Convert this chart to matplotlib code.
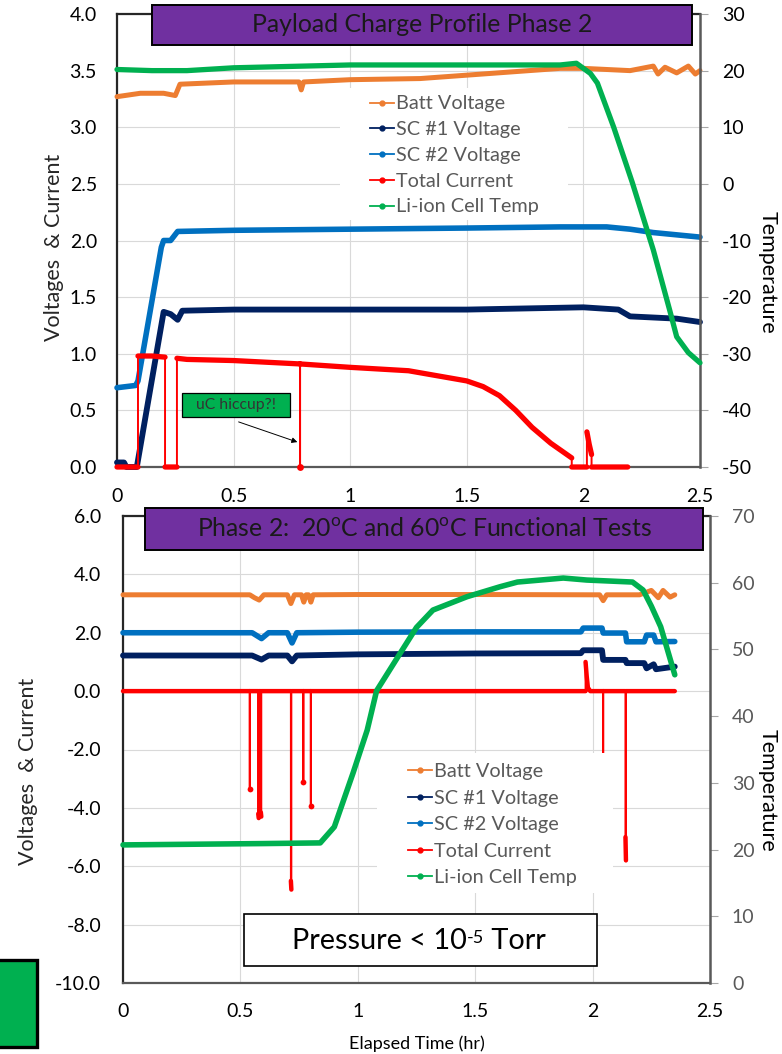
import numpy as np
import matplotlib
matplotlib.use('Agg')  # no display in the sandbox
import matplotlib.pyplot as plt
from matplotlib.patches import Rectangle
from matplotlib.lines import Line2D

plt.rcParams['font.family'] = ['Lato', 'DejaVu Sans']
plt.rcParams['mathtext.fontset'] = 'custom'
plt.rcParams['mathtext.rm'] = 'Lato'
plt.rcParams['mathtext.it'] = 'Lato:italic'
plt.rcParams['mathtext.bf'] = 'Lato:bold'
plt.rcParams['axes.unicode_minus'] = False

W, H = 782, 1054

# ---- colours (Excel palette) ----
C_BATT = '#ED7D31'
C_SC1 = '#002060'
C_SC2 = '#0070C0'
C_CUR = '#FF0000'
C_TEMP = '#00B050'
C_PURPLE = '#7030A0'
GRID = '#D9D9D9'

series_names = ['Batt Voltage', 'SC #1 Voltage', 'SC #2 Voltage',
                'Total Current', 'Li-ion Cell Temp']
x_ticks = [0, 0.5, 1, 1.5, 2, 2.5]
x_tick_labels = ['0', '0.5', '1', '1.5', '2', '2.5']

# ---- top panel: payload charge profile ----
top_batt_x = [0, 0.1, 0.2, 0.25, 0.27, 0.5, 0.78, 0.79, 0.80, 1.0, 1.3,
              1.5, 1.7, 1.9, 2.0, 2.2, 2.3, 2.32, 2.35, 2.4, 2.45, 2.48, 2.5]
top_batt_v = [3.27, 3.30, 3.30, 3.28, 3.38, 3.40, 3.40, 3.33, 3.40, 3.42, 3.43,
              3.46, 3.49, 3.52, 3.52, 3.50, 3.54, 3.47, 3.53, 3.48, 3.54, 3.47, 3.50]

top_sc1_x = [0, 0.03, 0.04, 0.085, 0.2, 0.23, 0.26, 0.28, 0.5, 1.0, 1.5,
             2.0, 2.15, 2.2, 2.3, 2.4, 2.5]
top_sc1_v = [0.04, 0.04, 0.0, 0.0, 1.37, 1.35, 1.30, 1.38, 1.39, 1.39, 1.39,
             1.41, 1.39, 1.33, 1.32, 1.31, 1.28]

top_sc2_x = [0, 0.08, 0.09, 0.19, 0.2, 0.23, 0.26, 0.5, 1.0, 1.5, 1.9,
             2.1, 2.2, 2.3, 2.4, 2.5]
top_sc2_v = [0.70, 0.72, 0.76, 1.94, 2.0, 2.0, 2.08, 2.09, 2.10, 2.11, 2.12,
             2.12, 2.10, 2.07, 2.05, 2.03]

top_cur_x = [0, 0.09, 0.09, 0.15, 0.206, 0.206, 0.257, 0.257, 0.3, 0.5,
             0.785, 0.785, 0.785, 1.0, 1.25, 1.5, 1.57, 1.64, 1.71, 1.78,
             1.86, 1.95, 1.95, 2.015, 2.015, 2.025, 2.035, 2.035, 2.19]
top_cur_v = [0, 0, 0.98, 0.98, 0.97, 0, 0, 0.96, 0.95, 0.94,
             0.91, 0, 0.91, 0.88, 0.85, 0.76, 0.71, 0.63, 0.50, 0.35,
             0.21, 0.08, 0, 0, 0.31, 0.20, 0.11, 0, 0]

top_temp_x = [0, 0.15, 0.3, 0.5, 1.0, 1.5, 1.9, 1.97, 2.03, 2.06, 2.13,
              2.21, 2.3, 2.37, 2.4, 2.45, 2.5]
top_temp_t = [20.2, 20.0, 20.0, 20.5, 21.0, 21.0, 21.0, 21.3, 19.5, 17.8, 10.0,
              0.2, -11.7, -22.3, -27.0, -29.8, -31.6]

# ---- bottom panel: 20C / 60C functional tests ----
bot_batt_x = [0, 0.54, 0.56, 0.58, 0.60, 0.70, 0.715, 0.73, 0.76, 0.77, 0.78,
              0.79, 0.80, 0.81, 1.0, 1.5, 2.0, 2.03, 2.045, 2.06, 2.2, 2.25,
              2.28, 2.3, 2.33, 2.35]
bot_batt_v = [3.30, 3.30, 3.20, 3.12, 3.30, 3.30, 3.00, 3.30, 3.30, 3.05, 3.30,
              3.30, 3.05, 3.30, 3.31, 3.31, 3.30, 3.30, 3.10, 3.30, 3.30, 3.45,
              3.20, 3.45, 3.22, 3.30]

bot_sc1_x = [0, 0.55, 0.59, 0.62, 0.70, 0.72, 0.74, 1.0, 1.5, 1.95, 1.96,
             2.04, 2.045, 2.14, 2.145, 2.22, 2.23, 2.26, 2.27, 2.35]
bot_sc1_v = [1.22, 1.22, 1.08, 1.22, 1.22, 1.02, 1.22, 1.26, 1.29, 1.30, 1.40,
             1.40, 1.07, 1.07, 0.96, 0.96, 0.78, 0.92, 0.75, 0.84]

bot_sc2_x = [0, 0.55, 0.59, 0.62, 0.70, 0.72, 0.74, 1.0, 1.5, 1.95, 1.96,
             2.04, 2.045, 2.14, 2.145, 2.22, 2.23, 2.26, 2.27, 2.35]
bot_sc2_v = [2.00, 2.00, 1.80, 2.00, 2.00, 1.65, 2.00, 2.02, 2.03, 2.03, 2.16,
             2.16, 1.99, 1.99, 1.69, 1.69, 1.92, 1.92, 1.69, 1.70]

bot_cur_x = [0, 0.54, 0.54, 0.54, 0.576, 0.576, 0.578, 0.578, 0.587, 0.587,
             0.589, 0.589, 0.715, 0.715, 0.717, 0.717, 0.768, 0.768, 0.768,
             0.80, 0.80, 0.80, 1.97, 1.97, 1.975, 1.98, 1.99, 2.045, 2.045,
             2.045, 2.14, 2.14, 2.142, 2.142, 2.35]
bot_cur_v = [0, 0, -3.35, 0, 0, -4.2, -4.35, 0, 0, -4.15, -4.3, 0, 0, -6.5,
             -6.8, 0, 0, -3.1, 0, 0, -3.93, 0, 0, 1.0, 0.5, 0.12, 0, 0, -2.3,
             0, 0, -5.0, -5.8, 0, 0]

bot_temp_x = [0, 0.3, 0.6, 0.84, 0.9, 0.98, 1.04, 1.08, 1.18, 1.25, 1.32,
              1.465, 1.606, 1.68, 1.875, 1.975, 2.17, 2.215, 2.25, 2.29, 2.35]
bot_temp_t = [20.7, 20.8, 20.9, 21.0, 23.4, 31.5, 37.9, 43.8, 49.4, 53.3, 55.9,
              57.9, 59.4, 60.1, 60.7, 60.4, 60.1, 58.9, 56.5, 53.4, 46.2]


def fx(px):
    return px / W


def fy(py):
    return 1 - py / H


def draw_series(ax, xs, ys, color, thick=3.8, thin=1.4, z=3):
    """Thin trace through every point, thick trace except on vertical jumps."""
    n = len(xs)
    ax.plot(xs, ys, color=color, lw=thin, zorder=z, clip_on=False)
    tx, ty = [], []
    for i in range(n):
        if i > 0 and xs[i] == xs[i - 1]:
            tx.append(np.nan)
            ty.append(np.nan)
        tx.append(xs[i])
        ty.append(ys[i])
    ax.plot(tx, ty, color=color, lw=thick, zorder=z, clip_on=False,
            solid_capstyle='round', solid_joinstyle='round')
    # lone samples at the tip of a jump still get their marker dot
    lone = [i for i in range(n)
            if (i == 0 or xs[i] == xs[i - 1]) and (i == n - 1 or xs[i + 1] == xs[i])]
    if lone:
        ax.plot([xs[i] for i in lone], [ys[i] for i in lone], ls='none',
                marker='o', ms=thick * 1.3, mew=0, color=color, zorder=z,
                clip_on=False)


def style_axes(ax, ax2, left_pad, bottom_pad, right_color):
    ax.set_xlim(0, 2.5)
    ax.set_xticks(x_ticks)
    ax.set_xticklabels(x_tick_labels)
    ax.grid(True, color=GRID, lw=0.8)
    ax.set_axisbelow(True)
    ax.tick_params(axis='y', length=0, pad=left_pad, labelsize=14, colors='black')
    ax.tick_params(axis='x', length=0, pad=bottom_pad, labelsize=14, colors='black')
    ax2.tick_params(axis='y', length=5.8, width=0.8, color='#A6A6A6', pad=10,
                    labelsize=14, labelcolor=right_color)
    ax.spines['right'].set_visible(False)
    for side in ['top', 'left']:
        ax.spines[side].set_color('#262626')
        ax.spines[side].set_linewidth(1.6)
    ax.spines['bottom'].set_color('#595959')
    ax.spines['bottom'].set_linewidth(1.6)
    for side in ['top', 'left', 'bottom']:
        ax2.spines[side].set_visible(False)
    ax2.spines['right'].set_color('#595959')
    ax2.spines['right'].set_linewidth(1.8)


def add_legend(fig, ax2, box, anchor, spacing):
    x0, y0, x1, y1 = box
    ax2.add_artist(Rectangle((fx(x0), fy(y1)), fx(x1) - fx(x0), (y1 - y0) / H,
                             transform=fig.transFigure, facecolor='white',
                             edgecolor='none', zorder=4.5, clip_on=False))
    colors = [C_BATT, C_SC1, C_SC2, C_CUR, C_TEMP]
    handles = [Line2D([], [], color=c, lw=1.3, marker='o', ms=3.5) for c in colors]
    leg = ax2.legend(handles, series_names, loc='upper left',
                     bbox_to_anchor=(fx(anchor[0]), fy(anchor[1])),
                     bbox_transform=fig.transFigure, frameon=False,
                     fontsize=14.3, labelcolor='#595959', borderpad=0,
                     borderaxespad=0, handlelength=1.2, handletextpad=0.1,
                     labelspacing=spacing)
    leg.set_zorder(5)


def title_box(fig, box, text, size=17.8):
    x0, y0, x1, y1 = box
    fig.add_artist(Rectangle((fx(x0), fy(y1)), fx(x1) - fx(x0), (y1 - y0) / H,
                             transform=fig.transFigure, facecolor=C_PURPLE,
                             edgecolor='black', lw=1.4, zorder=6))
    fig.text(fx((x0 + x1) / 2), fy((y0 + y1) / 2), text, ha='center',
             va='center', fontsize=size, color='#1A1A1A', zorder=7)


fig = plt.figure(figsize=(W / 100, H / 100), dpi=100)

# ================= top panel =================
ax = fig.add_axes([fx(117), fy(467), (700 - 117) / W, (467 - 14) / H])
ax2 = ax.twinx()
ax.set_ylim(0, 4)
ax.set_yticks(np.arange(0, 4.01, 0.5))
ax.set_yticklabels([f'{v:.1f}' for v in np.arange(0, 4.01, 0.5)])
ax2.set_ylim(-50, 30)
ax2.set_yticks(range(-50, 31, 10))
style_axes(ax, ax2, left_pad=14.4, bottom_pad=15, right_color='black')

draw_series(ax, top_batt_x, top_batt_v, C_BATT, thick=3.6)
draw_series(ax, top_sc2_x, top_sc2_v, C_SC2, thick=4.0)
draw_series(ax, top_sc1_x, top_sc1_v, C_SC1, thick=4.2)
draw_series(ax, top_cur_x, top_cur_v, C_CUR, thick=3.8)
draw_series(ax2, top_temp_x, top_temp_t, C_TEMP, thick=3.8)

add_legend(fig, ax2, (340, 88, 568, 220), (370, 95.5), 0.44)

# annotation for the current drop-out
fig.add_artist(Rectangle((fx(182), fy(417)), 108 / W, 24 / H,
                         transform=fig.transFigure, facecolor=C_TEMP,
                         edgecolor='black', lw=0.9, zorder=6))
fig.text(fx(236), fy(405), 'uC hiccup?!', ha='center', va='center',
         fontsize=11.3, color='#333333', zorder=7)
ax.annotate('', xy=(fx(300), fy(443)), xytext=(fx(236), fy(421)),
            xycoords='figure fraction', textcoords='figure fraction',
            arrowprops=dict(arrowstyle='-|>', color='black', lw=0.7,
                            mutation_scale=8), zorder=7)

title_box(fig, (152, 5, 692, 45), 'Payload Charge Profile Phase 2')
fig.text(fx(54), fy(247), 'Voltages  & Current', rotation=90, ha='center',
         va='center', fontsize=15.5, color='#262626')
fig.text(fx(768), fy(272), 'Temperature', rotation=270, ha='center',
         va='center', fontsize=15.5, color='black')

# ================= bottom panel =================
bx = fig.add_axes([fx(123), fy(983), (710 - 123) / W, (983 - 516) / H])
bx2 = bx.twinx()
bx.set_ylim(-10, 6)
bx.set_yticks(range(-10, 7, 2))
bx.set_yticklabels([f'{v:.1f}' for v in range(-10, 7, 2)])
bx2.set_ylim(0, 70)
bx2.set_yticks(range(0, 71, 10))
style_axes(bx, bx2, left_pad=15.8, bottom_pad=14.4, right_color='#595959')

draw_series(bx, bot_batt_x, bot_batt_v, C_BATT, thick=3.6)
draw_series(bx, bot_sc2_x, bot_sc2_v, C_SC2, thick=4.0)
draw_series(bx, bot_sc1_x, bot_sc1_v, C_SC1, thick=4.2)
draw_series(bx, bot_cur_x, bot_cur_v, C_CUR, thick=3.2)
draw_series(bx2, bot_temp_x, bot_temp_t, C_TEMP, thick=4.0)

add_legend(fig, bx2, (377, 753, 613, 893), (408, 763), 0.48)

bx.set_xlabel('Elapsed Time (hr)', fontsize=13, color='black', labelpad=11)
fig.text(fx(28), fy(771), 'Voltages  & Current', rotation=90, ha='center',
         va='center', fontsize=15.5, color='#262626')
fig.text(fx(768), fy(790), 'Temperature', rotation=270, ha='center',
         va='center', fontsize=15.5, color='black')

title_box(fig, (145, 508, 703, 550),
          r'Phase 2:  20$^{\mathregular{o}}$C and 60$^{\mathregular{o}}$C Functional Tests')

# pressure note (kept on the twin axes so the pieces chain together)
bx2.add_artist(Rectangle((fx(244), fy(966)), (597 - 244) / W, 52 / H,
                         transform=fig.transFigure, facecolor='white',
                         edgecolor='black', lw=1.2, zorder=6, clip_on=False))
p1 = bx2.text(fx(292), fy(941), 'Pressure < 10', transform=fig.transFigure,
              ha='left', va='center', fontsize=20.8, color='black', zorder=7)
p2 = bx2.annotate('-5', xy=(1, 0.93), xycoords=p1, ha='left', va='top',
                  fontsize=13, color='black', zorder=7, annotation_clip=False)
bx2.annotate(' Torr', xy=(1, 0), xycoords=(p2, p1), ha='left', va='bottom',
             fontsize=20.8, color='black', zorder=7, annotation_clip=False)

# stray green shape at the lower-left edge
fig.add_artist(Rectangle((fx(-6), fy(1047)), 43 / W, 87 / H,
                         transform=fig.transFigure, facecolor=C_TEMP,
                         edgecolor='black', lw=2.4, zorder=6))

fig.savefig('out.png', dpi=100)
